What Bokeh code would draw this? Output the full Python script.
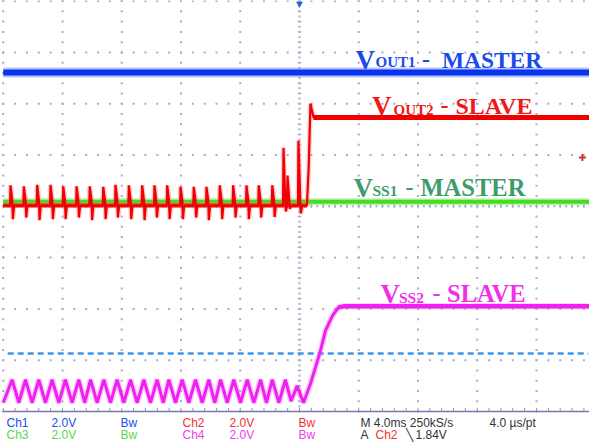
import numpy as np
from bokeh.plotting import figure
from bokeh.models import Range1d
from bokeh.core.properties import value
from bokeh.embed import file_html
from bokeh.resources import INLINE

# ---------------- data (time in ms, 4 ms/div; vertical in screen divisions) -------------
# CH1  VOUT1 - MASTER (flat)
ch1_t = [-20.0, 20.0]
ch1_v = [2.61, 2.61]
# CH3  VSS1 - MASTER (flat)
ch3_t = [-20.0, 20.0]
ch3_v = [0.09, 0.09]
# CH2  VOUT2 - SLAVE : baseline with switching spikes, then start-up step
ch2_base = 0.015
ch2_spike_t = [-19.51, -18.61, -17.71, -16.81, -15.95, -15.05, -14.16, -13.25, -12.42,
               -11.52, -10.62, -9.79, -8.93, -8.03, -7.14, -6.28, -5.38, -4.48, -3.58,
               -2.75, -1.84, -1.08, -0.81, -0.07]
ch2_spike_hi = [0.41, 0.39, 0.42, 0.42, 0.39, 0.39, 0.39, 0.38, 0.42, 0.41, 0.41, 0.41,
                0.41, 0.38, 0.38, 0.38, 0.41, 0.41, 0.41, 0.41, 0.41, 1.14, 0.60, 1.28]
ch2_spike_lo = [-0.25, -0.22, -0.27, -0.25, -0.25, -0.22, -0.27, -0.25, -0.22, -0.25,
                -0.27, -0.22, -0.25, -0.25, -0.22, -0.27, -0.25, -0.22, -0.25, -0.22,
                -0.21, -0.10, -0.05, -0.14]
ch2_step_t = [0.50, 0.62, 0.74, 0.95, 20.0]
ch2_step_v = [0.015, 0.75, 2.00, 1.73, 1.73]
# CH2 reference marker
ch2_ref_t = [19.1]
ch2_ref_v = [0.95]
# CH4  VSS2 - SLAVE : ripple, then soft-start ramp
ch4_t = [-20.0, -19.40, -18.95, -18.50, -18.05, -17.60, -17.15, -16.70, -16.25, -15.80,
         -15.35, -14.90, -14.50, -14.11, -13.66, -13.21, -12.76, -12.31, -11.86, -11.41,
         -10.96, -10.51, -10.06, -9.61, -9.20, -8.82, -8.37, -7.92, -7.47, -7.02, -6.57,
         -6.12, -5.72, -5.33, -4.88, -4.44, -3.98, -3.53, -3.08, -2.63, -2.23, -1.84,
         -1.39, -0.95, -0.57, -0.16, 0.27, 0.74, 1.08, 1.42, 1.76, 2.23, 2.63, 2.97, 20.0]
ch4_v = [-3.83, -3.38, -3.83, -3.38, -3.83, -3.38, -3.83, -3.38, -3.83, -3.38,
         -3.83, -3.38, -3.83, -3.38, -3.83, -3.38, -3.83, -3.38, -3.83, -3.38,
         -3.83, -3.38, -3.83, -3.38, -3.83, -3.38, -3.83, -3.38, -3.83, -3.38, -3.83,
         -3.38, -3.83, -3.38, -3.83, -3.38, -3.83, -3.38, -3.83, -3.38, -3.83, -3.38,
         -3.83, -3.38, -3.80, -3.50, -3.83, -3.46, -3.14, -2.81, -2.42, -2.13, -1.97, -1.95, -1.95]
# trigger level cursor (dashed) and trigger position marker
trig_t = [-19.7, 19.5]
trig_v = [-2.87, -2.87]
trigpos_t = [0.0]
trigpos_v = [3.95]

# grid definition (divisions)
major_t = [-20, -16, -12, -8, -4, 4, 8, 12, 16]
major_v = [-3, -2, -1, 1, 2, 3, 4]

# ---------------- geometry helpers for label placement (page pixels -> data) -----------
X0, DX, Y0, DY = 299.0, 59.25, 205.8, 51.3
def tx(px):
    return (px - X0) * 4.0 / DX
def vy(py):
    return (Y0 - py) / DY

W, H = 589, 448
p = figure(width=W, height=H, output_backend="svg", toolbar_location=None,
           x_range=Range1d(tx(0), tx(W)), y_range=Range1d(vy(H), vy(0)),
           min_border=0, background_fill_color="white", border_fill_color="white")
p.axis.visible = False
p.grid.visible = False
p.outline_line_color = None

dot = "#aaaacc"
# grid dots
gx, gy = [], []
for v in major_v:
    for t in np.arange(-20, 20.01, 0.8):
        gx.append(t); gy.append(v)
for t in major_t:
    for v in np.arange(-4, 4.01, 0.2):
        gx.append(t); gy.append(v)
for v in np.arange(-4, 4.01, 0.1):
    gx.append(0.0); gy.append(v)
for t in np.arange(-20, 20.01, 0.4):
    gx.append(t); gy.append(0.0)
p.scatter(gx, gy, marker="square", size=2, fill_color=dot, line_color=None)
# center-line tick marks
cv = np.arange(-4, 4.01, 0.2)
p.segment(x0=[-0.13] * len(cv), y0=cv, x1=[0.13] * len(cv), y1=cv, line_color=dot, line_width=1)
ct = np.arange(-20, 20.01, 0.8)
p.segment(x0=ct, y0=[-0.04] * len(ct), x1=ct, y1=[0.04] * len(ct), line_color=dot, line_width=1)
# bottom edge line with ticks
p.line([-20, 20], [-4, -4], line_color="#7878a8", line_width=1.5)
p.segment(x0=ct, y0=[-4] * len(ct), x1=ct, y1=[-3.93] * len(ct), line_color="#9090b8", line_width=1)

# trigger cursor
p.line(trig_t, trig_v, line_color="#3d96ea", line_width=2.5, line_dash="6 4")
p.scatter(trigpos_t, trigpos_v, marker="inverted_triangle", size=7,
          fill_color="#2266dd", line_color=None)

# CH1 blue
p.line(ch1_t, ch1_v, line_color="#3a5cf0", line_width=10, line_alpha=0.35)
p.line(ch1_t, ch1_v, line_color="#0632f0", line_width=6)
# CH3 green
p.line(ch3_t, ch3_v, line_color="#66dd44", line_width=7, line_alpha=0.4)
p.line(ch3_t, ch3_v, line_color="#44dd22", line_width=4)

# CH2 red trace built from spikes and step
rt, rv = [-20.0], [ch2_base]
for t, hi, lo in zip(ch2_spike_t, ch2_spike_hi, ch2_spike_lo):
    rt += [t - 0.03, t, t + 0.12, t + 0.16, t + 0.24]
    rv += [ch2_base, hi, ch2_base + 0.10, lo, ch2_base]
rt += ch2_step_t
rv += ch2_step_v
p.line([-20.0, ch2_step_t[0]], [ch2_base, ch2_base], line_color="#f00000", line_width=4)
p.line(rt, rv, line_color="#ff7070", line_width=5, line_alpha=0.35)
p.line(rt, rv, line_color="#f00000", line_width=2.2)
p.line(ch2_step_t[3:], ch2_step_v[3:], line_color="#f00000", line_width=5)
p.scatter(ch2_ref_t, ch2_ref_v, marker="cross", size=7, line_color="#d03030", line_width=2)

# CH4 magenta
p.line(ch4_t, ch4_v, line_color="#f070f0", line_width=6, line_alpha=0.35)
p.line(ch4_t, ch4_v, line_color="#f020f0", line_width=3)
p.line(ch4_t[-3:], ch4_v[-3:], line_color="#f020f0", line_width=4.5)

# ---------------- trace labels ----------------
serif = value("Liberation Serif")
labels = [
    # text, left px, baseline px, size, color
    ("V", 355, 59, "27px", "#1a4be8"), ("OUT1", 375, 61, "15px", "#1a4be8"),
    ("-", 421.5, 59, "24px", "#1a4be8"), ("MASTER", 441.5, 59, "23.4px", "#1a4be8"),
    ("V", 371.5, 105, "27px", "#f01818"), ("OUT2", 393, 109, "15px", "#f01818"),
    ("-", 440, 105, "24px", "#f01818"), ("SLAVE", 455, 105, "24px", "#f01818"),
    ("V", 353, 187, "27px", "#3e9c6c"), ("SS1", 372, 190, "15.5px", "#3e9c6c"),
    ("-", 405, 187, "24px", "#3e9c6c"), ("MASTER", 420, 187, "24.5px", "#3e9c6c"),
    ("V", 380, 293, "27px", "#f030e8"), ("SS2", 398.5, 297, "15.5px", "#f030e8"),
    ("-", 432, 293, "24px", "#f030e8"), ("SLAVE", 446.5, 293, "24.5px", "#f030e8"),
]
for s, x, y, size, c in labels:
    p.text([tx(x)], [vy(y)], text=[s], text_font=serif, text_font_style="bold",
           text_font_size=size, text_color=c, text_align="left", text_baseline="alphabetic")

# ---------------- status text ----------------
sans = value("Liberation Sans")
status = [
    ("Ch1", 6, 422, "#2050ee"), ("2.0V", 51, 422, "#2050ee"), ("Bw", 120, 422, "#2050ee"),
    ("Ch2", 182, 422, "#f03030"), ("2.0V", 229, 422, "#f03030"), ("Bw", 298, 422, "#f03030"),
    ("M 4.0ms 250kS/s", 360, 422, "#333333"), ("4.0 \u00b5s/pt", 489, 422, "#333333"),
    ("Ch3", 6, 434, "#5ad84a"), ("2.0V", 51, 434, "#5ad84a"), ("Bw", 120, 434, "#5ad84a"),
    ("Ch4", 182, 434, "#ee40ee"), ("2.0V", 229, 434, "#ee40ee"), ("Bw", 298, 434, "#ee40ee"),
    ("A", 360, 434, "#333333"), ("Ch2", 375, 434, "#f03030"), ("\u2572", 405, 434, "#333333"),
    ("1.84V", 415, 434, "#333333"),
]
for s, x, y, c in status:
    p.text([tx(x)], [vy(y)], text=[s], text_font=sans, text_font_size="12px",
           text_color=c, text_align="left", text_baseline="middle")

open("out.html", "w").write(file_html(p, INLINE))
